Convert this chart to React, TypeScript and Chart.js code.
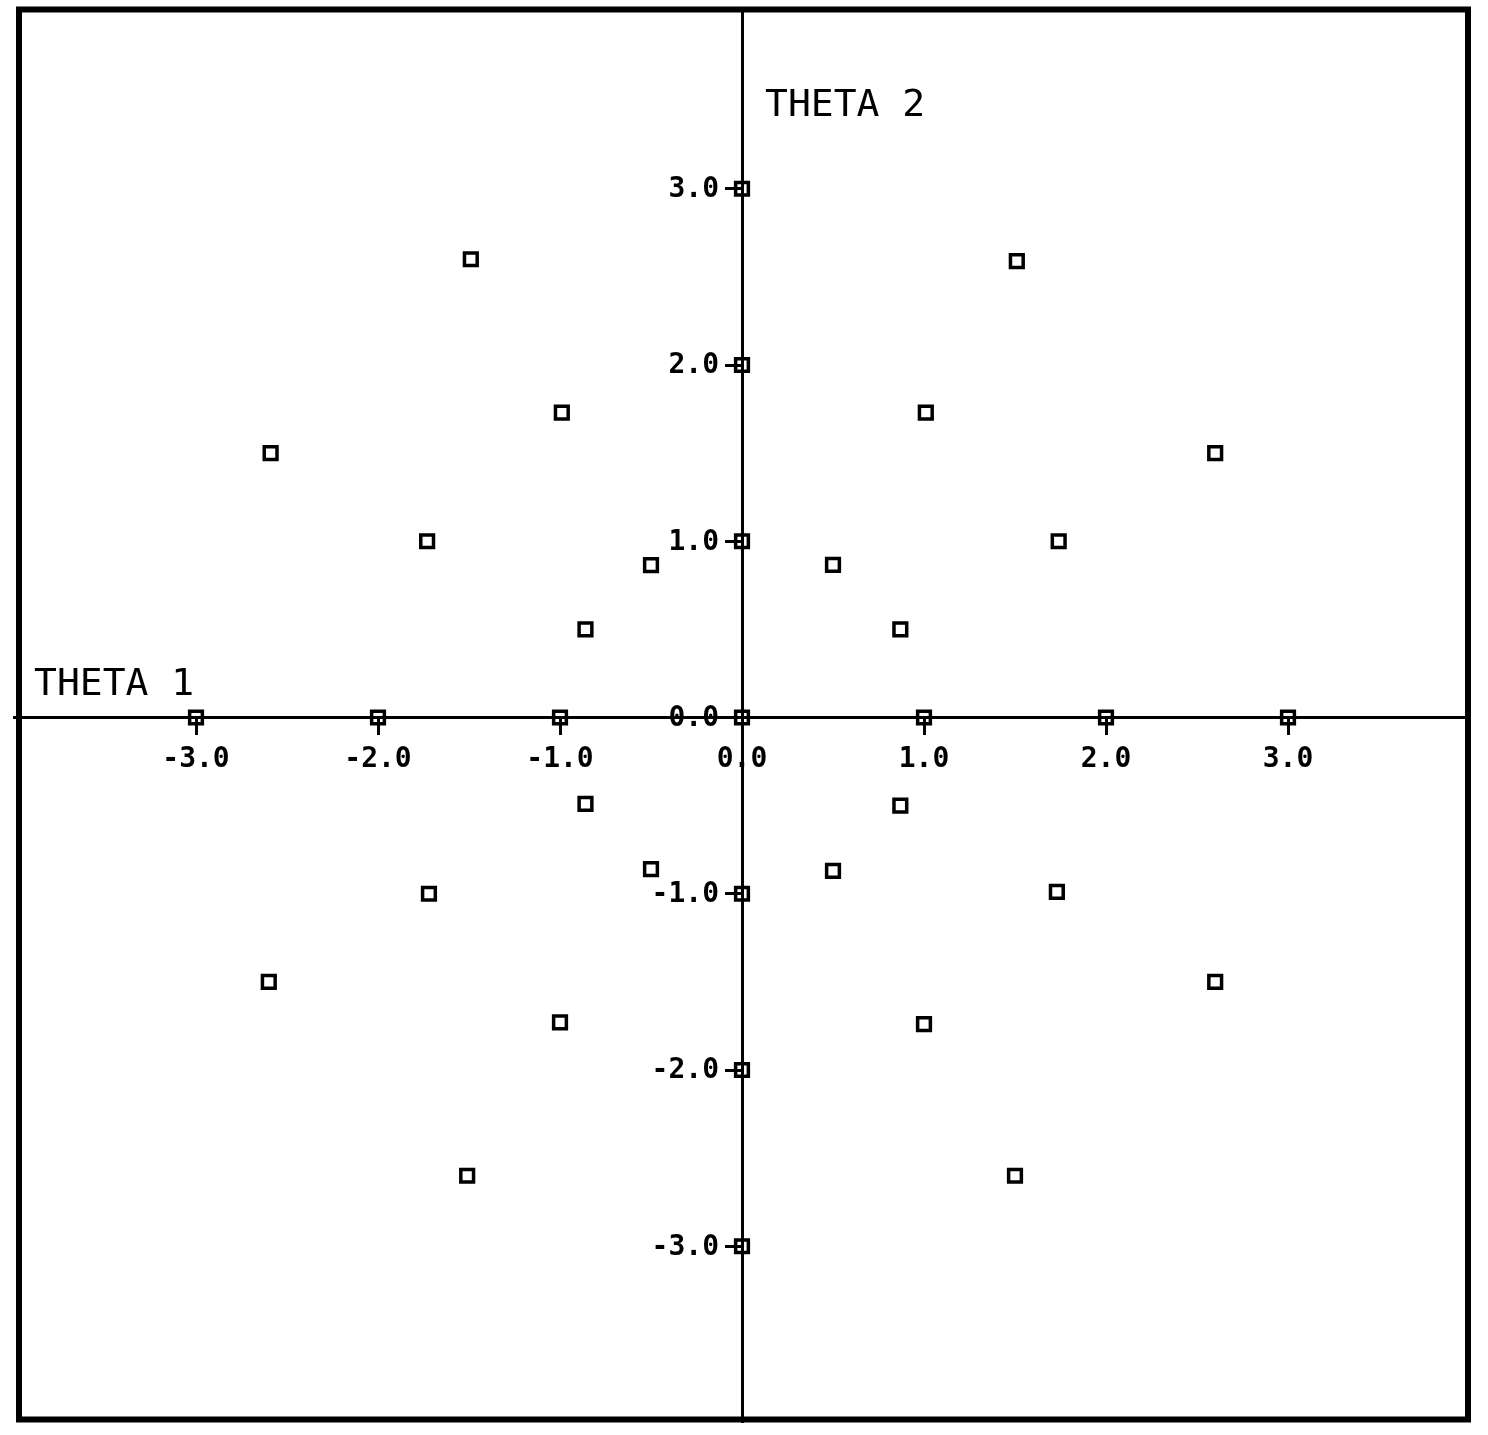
import React, { useEffect, useRef } from 'react';
import { Chart, registerables } from 'chart.js';

Chart.register(...registerables);

// Point coordinates (THETA 1 = horizontal, THETA 2 = vertical)
const theta1: number[] = [
  -1.49, 1.51, -0.99, 1.01, -2.59, 2.6, -1.73, 1.74, -0.5, 0.5, -0.86, 0.87,
  -3, -2, -1, 0, 1, 2, 3, 0, 0, 0, 0, 0, 0,
  -0.86, 0.87, -0.5, 0.5, -1.72, 1.73, -2.6, 2.6, -1.0, 1.0, -1.51, 1.5,
];
const theta2: number[] = [
  2.6, 2.59, 1.73, 1.73, 1.5, 1.5, 1.0, 1.0, 0.865, 0.866, 0.5, 0.5,
  0, 0, 0, 0, 0, 0, 0, 3, 2, 1, -1, -2, -3,
  -0.49, -0.5, -0.86, -0.87, -1.0, -0.99, -1.5, -1.5, -1.73, -1.74, -2.6, -2.6,
];

const tickValues: number[] = [-3, -2, -1, 0, 1, 2, 3];
const tickLabels: string[] = ['-3.0', '-2.0', '-1.0', '0.0', '1.0', '2.0', '3.0'];
const axisMin = -4;
const axisMax = 4;
const xTitle = 'THETA 1';
const yTitle = 'THETA 2';

const FONT_FAMILY = '"DejaVu Sans Mono", monospace';
const tickFont = { family: FONT_FAMILY, size: 28, weight: 'bold' as const };
const TICK_LEN = 16;

export default function App() {
  const ref = useRef<HTMLCanvasElement>(null);

  useEffect(() => {
    if (!ref.current) return;

    const framePlugin = {
      id: 'framePlugin',
      afterDraw(chart: any) {
        const { ctx, chartArea, scales } = chart;
        const xs = scales.x;
        const ys = scales.y;
        ctx.save();

        // outer frame
        ctx.strokeStyle = '#000';
        ctx.lineWidth = 6;
        const l = chartArea.left + 5;
        const t = chartArea.top - 3;
        const r = chartArea.right - 2;
        const b = chartArea.bottom - 3;
        ctx.strokeRect(l, t, r - l, b - t);

        const x0 = xs.getPixelForValue(0);
        const y0 = ys.getPixelForValue(0);

        // vertical-axis tick labels (left of the axis)
        ctx.fillStyle = '#000';
        ctx.font = `bold 28px ${FONT_FAMILY}`;
        ctx.textAlign = 'right';
        ctx.textBaseline = 'middle';
        tickValues.forEach((v, i) => {
          ctx.fillText(tickLabels[i], x0 - TICK_LEN - 7, ys.getPixelForValue(v) + 1);
        });

        // axis titles
        ctx.font = `38px ${FONT_FAMILY}`;
        ctx.textBaseline = 'alphabetic';
        ctx.textAlign = 'left';
        ctx.fillText(xTitle, chartArea.left + 20, y0 - 23);
        ctx.fillText(yTitle, x0 + 23, chartArea.top + 103);
        ctx.restore();
      },
    };

    const buildTicks = (axis: any) => {
      axis.ticks = tickValues.map((v) => ({ value: v }));
    };
    const labelFor = (v: any) => {
      const i = tickValues.indexOf(Number(v));
      return i >= 0 ? tickLabels[i] : '';
    };

    const chart = new Chart(ref.current, {
      type: 'scatter',
      data: {
        datasets: [
          {
            data: theta1.map((x, i) => ({ x, y: theta2[i] })),
            pointStyle: 'rect',
            pointRadius: 9,
            pointHoverRadius: 9,
            borderWidth: 3.5,
            borderColor: '#000',
            backgroundColor: 'rgba(0,0,0,0)',
          },
        ],
      },
      options: {
        animation: false,
        responsive: true,
        maintainAspectRatio: false,
        layout: { padding: { left: 14, top: 8, right: 18, bottom: 3 } },
        plugins: {
          legend: { display: false },
          tooltip: { enabled: false },
          title: { display: false },
        },
        scales: {
          x: {
            type: 'linear',
            min: axisMin,
            max: axisMax,
            position: { y: 0 } as any,
            afterBuildTicks: buildTicks,
            grid: {
              drawOnChartArea: false,
              drawTicks: true,
              tickLength: TICK_LEN,
              tickWidth: 3,
              tickColor: '#000',
            },
            border: { display: true, color: '#000', width: 3 },
            ticks: {
              color: '#000',
              font: tickFont,
              padding: 9,
              maxRotation: 0,
              autoSkip: false,
              callback: labelFor,
            },
          },
          y: {
            type: 'linear',
            min: axisMin,
            max: axisMax,
            position: { x: 0 } as any,
            afterBuildTicks: buildTicks,
            grid: {
              drawOnChartArea: false,
              drawTicks: true,
              tickLength: TICK_LEN,
              tickWidth: 3,
              tickColor: '#000',
            },
            border: { display: true, color: '#000', width: 3 },
            ticks: {
              display: false,
              padding: 0,
              autoSkip: false,
            },
          },
        },
      },
      plugins: [framePlugin],
    });

    return () => chart.destroy();
  }, []);

  return (
    <div style={{ position: 'absolute', left: 0, top: 0, width: 1488, height: 1435 }}>
      <canvas ref={ref} />
    </div>
  );
}
